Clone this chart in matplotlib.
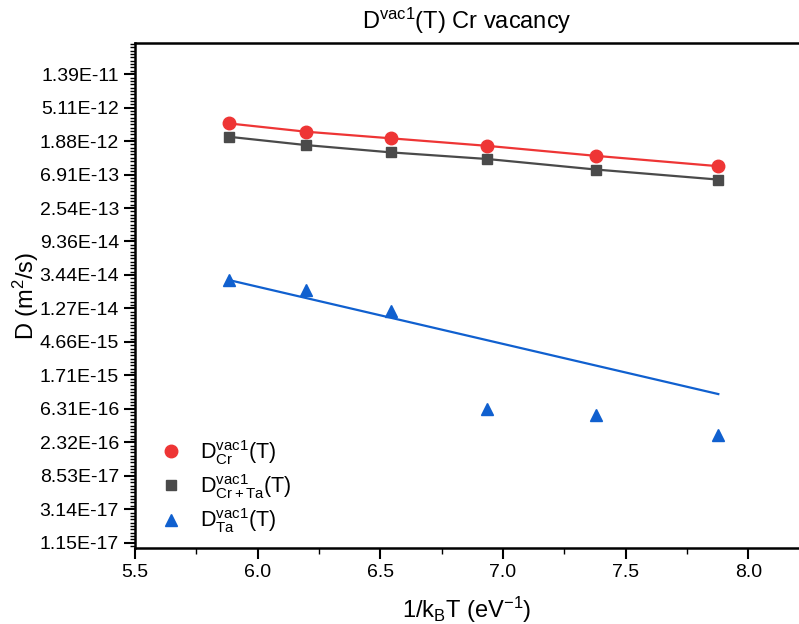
import numpy as np
import matplotlib
matplotlib.use("Agg")
import matplotlib.pyplot as plt
from matplotlib.ticker import FixedLocator, FuncFormatter, MultipleLocator, NullFormatter

plt.rcParams['font.family'] = ['Liberation Sans', 'DejaVu Sans']
plt.rcParams['mathtext.fontset'] = 'custom'
plt.rcParams['mathtext.rm'] = 'Liberation Sans'
plt.rcParams['mathtext.it'] = 'Liberation Sans'
plt.rcParams['mathtext.bf'] = 'Liberation Sans:bold'

# 1/kBT (eV^-1)
inv_kt = [5.882, 6.196, 6.545, 6.937, 7.378, 7.878]

# diffusion coefficients (m^2/s)
d_cr = [3.19e-12, 2.49e-12, 2.04e-12, 1.63e-12, 1.21e-12, 8.88e-13]
d_crta = [2.14e-12, 1.67e-12, 1.34e-12, 1.10e-12, 8.04e-13, 5.95e-13]
d_ta = [2.96e-14, 2.20e-14, 1.18e-14, 6.18e-16, 5.21e-16, 2.89e-16]

# Arrhenius fit line for Ta (end points)
fit_ta_x = [5.882, 7.878]
fit_ta_y = [2.96e-14, 9.79e-16]

c_red = '#EE3535'
c_gray = '#4A4A4A'
c_blue = '#1060CF'

fig = plt.figure(figsize=(7.99, 6.24), dpi=100)
ax = fig.add_axes([0.169, 0.1218, 0.831, 0.8092])

ax.plot(inv_kt, d_cr, '-', color=c_red, lw=1.6)
ax.plot(inv_kt, d_crta, '-', color=c_gray, lw=1.6)
ax.plot(fit_ta_x, fit_ta_y, '-', color=c_blue, lw=1.6)

ax.plot(inv_kt, d_cr, 'o', color=c_red, ms=9, ls='none',
        label=r'$\mathregular{D^{vac1}_{Cr}}$(T)')
ax.plot(inv_kt, d_crta, 's', color=c_gray, ms=7.5, ls='none',
        label=r'$\mathregular{D^{vac1}_{Cr+Ta}}$(T)')
ax.plot(inv_kt, d_ta, '^', color=c_blue, ms=9, ls='none',
        label=r'$\mathregular{D^{vac1}_{Ta}}$(T)')

ax.set_yscale('log', base=np.e)
ax.set_xlim(5.5, 8.207)
ax.set_ylim(np.exp(-39.16), np.exp(-24.07))

major = [np.exp(n) for n in range(-39, -24)]
minor = [np.exp(n + k / 10) for n in range(-40, -23) for k in range(1, 10)]
ax.yaxis.set_major_locator(FixedLocator(major))
ax.yaxis.set_minor_locator(FixedLocator(minor))
ax.yaxis.set_major_formatter(FuncFormatter(lambda v, p: '{:.2E}'.format(v)))
ax.yaxis.set_minor_formatter(NullFormatter())
ax.xaxis.set_major_locator(MultipleLocator(0.5))
ax.xaxis.set_minor_locator(MultipleLocator(0.25))
ax.xaxis.set_major_formatter(FuncFormatter(lambda v, p: '{:.1f}'.format(v)))
ax.xaxis.set_minor_formatter(NullFormatter())

ax.tick_params(which='major', direction='out', length=8, width=1.5, labelsize=14)
ax.tick_params(which='minor', direction='out', length=4, width=1.0)
ax.tick_params(axis='y', which='minor', length=3.5)

for s in ['left', 'top', 'bottom']:
    ax.spines[s].set_linewidth(1.8)
ax.spines['right'].set_visible(False)

ax.set_title(r'$\mathregular{D^{vac1}}$(T) Cr vacancy', fontsize=17, pad=10)
ax.set_ylabel(r'D (m$^2$/s)', fontsize=17, labelpad=-1)
ax.set_xlabel(r'1/k$_B$T (eV$^{-1}$)', fontsize=17, labelpad=10)

ax.legend(loc='lower left', bbox_to_anchor=(0.01, 0.0), frameon=False,
          fontsize=15.5, handletextpad=0.6, labelspacing=0.25, handlelength=1.5,
          borderaxespad=0.2)

fig.savefig('out.png', dpi=100)
